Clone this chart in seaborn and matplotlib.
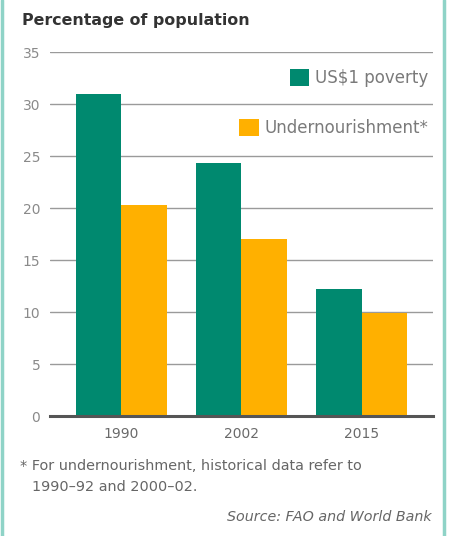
import matplotlib
matplotlib.use("Agg")
import matplotlib.pyplot as plt
import seaborn as sns
import pandas as pd
from matplotlib.lines import Line2D

years = ["1990", "2002", "2015"]
poverty = [31.0, 24.3, 12.2]
undernourishment = [20.3, 17.0, 9.9]
series_names = ["US$1 poverty", "Undernourishment*"]
y_ticks = [0, 5, 10, 15, 20, 25, 30, 35]

GREEN = "#00896F"
ORANGE = "#FFB000"
TEAL = "#8FD3C7"

df = pd.DataFrame({
    "year": years * 2,
    "value": poverty + undernourishment,
    "series": [series_names[0]] * len(years) + [series_names[1]] * len(years),
})

sns.set_theme(style="white")
plt.rcParams["font.family"] = ["DejaVu Sans"]

fig = plt.figure(figsize=(4.49, 5.36), dpi=100)
ax = fig.add_axes([50 / 449, 1 - 416 / 536, 383 / 449, 364 / 536])

sns.barplot(data=df, x="year", y="value", hue="series", order=years,
            hue_order=series_names, palette=[GREEN, ORANGE], width=0.76,
            saturation=1, ax=ax, zorder=3, edgecolor="none")

ax.set_ylim(0, 35)
ax.set_xlim(-0.592, 2.592)
ax.set_yticks(y_ticks)
ax.set_yticklabels([str(t) for t in y_ticks], color="#8a8a8a", fontsize=10)
ax.tick_params(axis="x", colors="#6a6a6a", labelsize=10, length=0, pad=8)
ax.tick_params(axis="y", length=0, pad=7)
ax.set_xlabel("")
ax.set_ylabel("")
for s in ["top", "right", "left"]:
    ax.spines[s].set_visible(False)
ax.spines["bottom"].set_color("#555555")
ax.spines["bottom"].set_linewidth(2.2)
ax.spines["bottom"].set_zorder(5)
ax.yaxis.grid(True, color="#9a9a9a", linewidth=1.0, zorder=0)
ax.set_axisbelow(True)

handles, labels = ax.get_legend_handles_labels()
if ax.get_legend() is not None:
    ax.get_legend().remove()

leg1 = ax.legend([handles[0]], [labels[0]], loc="upper right",
                 bbox_to_anchor=(1.005, 0.972), frameon=False, fontsize=12,
                 handlelength=1.15, handleheight=1.2, handletextpad=0.35,
                 borderaxespad=0, labelcolor="#7a7a7a")
ax.add_artist(leg1)
leg2 = ax.legend([handles[1]], [labels[1]], loc="upper right",
                 bbox_to_anchor=(1.005, 0.834), frameon=False, fontsize=12,
                 handlelength=1.15, handleheight=1.2, handletextpad=0.35,
                 borderaxespad=0, labelcolor="#7a7a7a")

fig.text(22 / 449, 1 - 20 / 536, "Percentage of population", fontsize=11.4,
         fontweight="bold", color="#333333", va="center", ha="left")

fig.text(20 / 449, 1 - 466 / 536, "* For undernourishment, historical data refer to",
         fontsize=10.4, color="#666666", va="center", ha="left")
fig.text(32 / 449, 1 - 487 / 536, "1990\u201392 and 2000\u201302.",
         fontsize=10.4, color="#666666", va="center", ha="left")
fig.text(432 / 449, 1 - 517 / 536, "Source: FAO and World Bank",
         fontsize=10.3, color="#666666", va="center", ha="right", style="italic")

fig.add_artist(Line2D([2 / 449, 2 / 449], [0, 1], color=TEAL, linewidth=2.5,
                      transform=fig.transFigure))
fig.add_artist(Line2D([444 / 449, 444 / 449], [0, 1], color=TEAL, linewidth=2.5,
                      transform=fig.transFigure))

fig.savefig("out.png", dpi=100, facecolor="white")
